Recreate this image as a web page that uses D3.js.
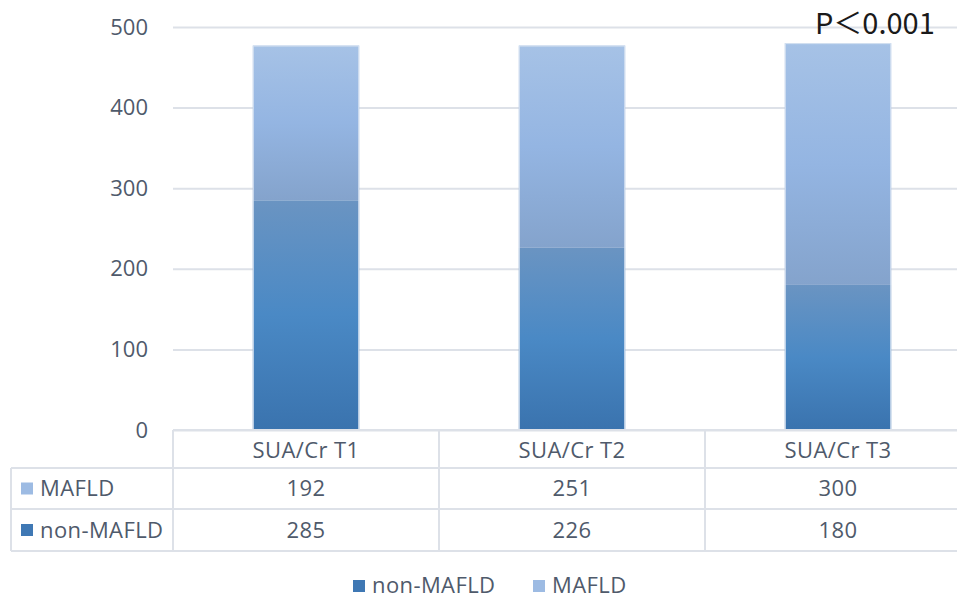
<!DOCTYPE html>
<html>
<head>
<meta charset="utf-8">
<script src="https://cdn.jsdelivr.net/npm/d3@7"></script>
<style>
  body { margin: 0; background: #fff; }
  text { font-family: "Open Sans", "Noto Sans", sans-serif; }
</style>
</head>
<body>
<div class="vis-chart"></div>
<script>
// data
const categories = ['SUA/Cr T1', 'SUA/Cr T2', 'SUA/Cr T3'];
const nonMafld = [285, 226, 180];
const mafld = [192, 251, 300];
const seriesNames = ['non-MAFLD', 'MAFLD'];
const yTicks = [0, 100, 200, 300, 400, 500];
const pLabel = 'P＜0.001';

const width = 957, height = 599;
const textColor = '#4f5a6b';
const lineColor = '#dde1e8';
const fontSize = '22px';
const spacing = '0.4px';

const svg = d3.select('.vis-chart').append('svg')
  .attr('width', width)
  .attr('height', height);

// gradients like the office chart fills
const defs = svg.append('defs');
const grads = {
  'non-MAFLD': ['#6a94c2', '#4a89c5', '#3a73ae'],
  'MAFLD': ['#a6c2e6', '#94b5e2', '#84a3cc']
};
Object.keys(grads).forEach((k, i) => {
  const g = defs.append('linearGradient')
    .attr('id', 'grad' + i)
    .attr('x1', 0).attr('y1', 0).attr('x2', 0).attr('y2', 1);
  g.append('stop').attr('offset', '0%').attr('stop-color', grads[k][0]);
  g.append('stop').attr('offset', '50%').attr('stop-color', grads[k][1]);
  g.append('stop').attr('offset', '100%').attr('stop-color', grads[k][2]);
});
const fillOf = name => name === 'non-MAFLD' ? 'url(#grad0)' : 'url(#grad1)';
const swatch = name => name === 'non-MAFLD' ? '#3f78b4' : '#9dbbe3';

const plotLeft = 173, plotRight = 971;
const y0 = 430, yTop = 27;

const x = d3.scaleBand()
  .domain(categories)
  .range([plotLeft, plotRight])
  .paddingInner(0.6)
  .paddingOuter(0.3);

const y = d3.scaleLinear()
  .domain([0, 500])
  .range([y0, yTop]);

// y axis with gridlines
const yAxis = d3.axisLeft(y)
  .tickValues(yTicks)
  .tickSize(-(plotRight - plotLeft))
  .tickPadding(25)
  .tickFormat(d3.format('d'));

const gY = svg.append('g')
  .attr('transform', `translate(${plotLeft},0)`)
  .call(yAxis);
gY.select('.domain').remove();
gY.selectAll('line').attr('stroke', lineColor).attr('stroke-width', 2);
gY.selectAll('text')
  .attr('fill', textColor)
  .style('font-size', fontSize);

// stacked bars
const table = categories.map((c, i) => ({cat: c, 'non-MAFLD': nonMafld[i], 'MAFLD': mafld[i]}));
const stacked = d3.stack().keys(seriesNames)(table);

svg.append('g').selectAll('g')
  .data(stacked)
  .join('g')
  .selectAll('rect')
  .data(layer => layer.map(d => ({key: layer.key, d})))
  .join('rect')
  .attr('x', s => x(s.d.data.cat))
  .attr('width', x.bandwidth())
  .attr('y', s => y(s.d[1]))
  .attr('height', s => y(s.d[0]) - y(s.d[1]))
  .attr('fill', s => fillOf(s.key));

// faint outline round each whole bar
svg.append('g').selectAll('rect')
  .data(table)
  .join('rect')
  .attr('x', d => x(d.cat) + 0.5)
  .attr('width', x.bandwidth() - 1)
  .attr('y', d => y(d['non-MAFLD'] + d['MAFLD']) + 0.5)
  .attr('height', d => y(0) - y(d['non-MAFLD'] + d['MAFLD']) - 1)
  .attr('fill', 'none')
  .attr('stroke', '#d6e2f1')
  .attr('stroke-width', 1);

// data table under the plot
const rowTop = [468, 509];
const rowBottom = 551;
const tableLeft = 11;
const step = x.step();
const colEdges = categories.map((c, i) => plotLeft + i * step);

const tg = svg.append('g');
// horizontal lines
tg.append('line').attr('x1', plotLeft).attr('x2', plotRight).attr('y1', y0).attr('y2', y0);
[...rowTop, rowBottom].forEach(yy => {
  tg.append('line').attr('x1', tableLeft).attr('x2', plotRight).attr('y1', yy).attr('y2', yy);
});
// vertical lines
tg.append('line').attr('x1', tableLeft).attr('x2', tableLeft).attr('y1', rowTop[0]).attr('y2', rowBottom);
colEdges.forEach(xx => {
  tg.append('line').attr('x1', xx).attr('x2', xx).attr('y1', y0).attr('y2', rowBottom);
});
tg.selectAll('line').attr('stroke', lineColor).attr('stroke-width', 2);

// header row
tg.selectAll('.head')
  .data(categories)
  .join('text')
  .attr('class', 'head')
  .attr('x', d => x(d) + x.bandwidth() / 2)
  .attr('y', (y0 + rowTop[0]) / 2 + 1)
  .attr('dy', '0.35em')
  .attr('text-anchor', 'middle')
  .attr('fill', textColor)
  .style('font-size', fontSize)
  .style('letter-spacing', spacing)
  .text(d => d);

// value rows (MAFLD on top, then non-MAFLD)
const rows = [
  {name: 'MAFLD', vals: mafld},
  {name: 'non-MAFLD', vals: nonMafld}
];
rows.forEach((r, ri) => {
  const top = rowTop[ri];
  const bot = ri + 1 < rowTop.length ? rowTop[ri + 1] : rowBottom;
  const cy = (top + bot) / 2;
  tg.append('rect')
    .attr('x', 21).attr('y', cy - 6)
    .attr('width', 12).attr('height', 12)
    .attr('fill', swatch(r.name));
  tg.append('text')
    .attr('x', 40).attr('y', cy).attr('dy', '0.35em')
    .attr('fill', textColor)
    .style('font-size', fontSize)
    .style('letter-spacing', spacing)
    .text(r.name);
  r.vals.forEach((v, i) => {
    tg.append('text')
      .attr('x', x(categories[i]) + x.bandwidth() / 2)
      .attr('y', cy).attr('dy', '0.35em')
      .attr('text-anchor', 'middle')
      .attr('fill', textColor)
      .style('font-size', fontSize)
      .style('letter-spacing', spacing)
      .text(v);
  });
});

// legend at the bottom
const legend = svg.append('g').attr('transform', 'translate(353,585)');
const legX = [0, 180];
seriesNames.forEach((name, i) => {
  legend.append('rect')
    .attr('x', legX[i]).attr('y', -5)
    .attr('width', 12).attr('height', 12)
    .attr('fill', swatch(name));
  legend.append('text')
    .attr('x', legX[i] + 19).attr('y', 0).attr('dy', '0.35em')
    .attr('fill', textColor)
    .style('font-size', fontSize)
    .style('letter-spacing', spacing)
    .text(name);
});

// p-value note
svg.append('text')
  .attr('x', 815).attr('y', 34)
  .attr('fill', '#1a1a1a')
  .style('font-size', '29px')
  .style('font-family', '"Noto Sans CJK SC", "Noto Sans", sans-serif')
  .text(pLabel);
</script>
</body>
</html>
